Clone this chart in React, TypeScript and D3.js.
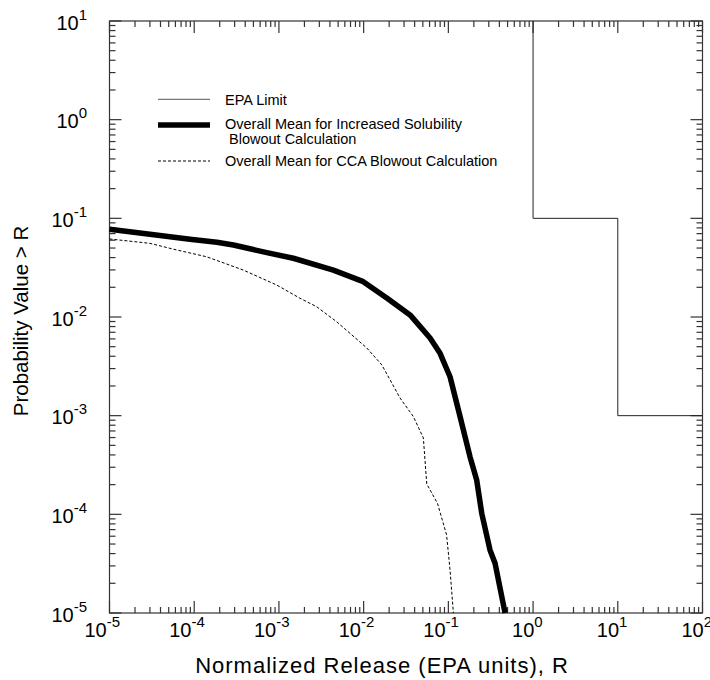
import React from "react";
import * as d3 from "d3";

// ---- Data ----
const xTickExps = [-5, -4, -3, -2, -1, 0, 1, 2];
const yTickExps = [-5, -4, -3, -2, -1, 0, 1];

const epaX = [1, 1, 10, 10, 100];
const epaY = [10, 0.1, 0.1, 0.001, 0.001];

const solubilityX = [1e-5, 3.0e-5, 8.9e-5, 1.85e-4, 2.9e-4, 7.2e-4, 1.48e-3, 4.39e-3, 9.9e-3, 0.01875, 0.0353, 0.0608, 0.0798, 0.1047, 0.1374, 0.18, 0.216, 0.248, 0.31, 0.356, 0.467];
const solubilityY = [0.0774, 0.0689, 0.0614, 0.0572, 0.0537, 0.0449, 0.0394, 0.0299, 0.0228, 0.0156, 0.0105, 6.12e-3, 4.28e-3, 2.48e-3, 9.8e-4, 3.84e-4, 2.23e-4, 1.02e-4, 4.36e-5, 3.19e-5, 1e-5];

const ccaX = [1e-5, 3.0e-5, 6.2e-5, 1.4e-4, 3.8e-4, 9.4e-4, 1.77e-3, 2.79e-3, 4.81e-3, 0.0109, 0.0164, 0.0269, 0.0386, 0.0507, 0.0556, 0.0745, 0.0953, 0.1047, 0.1146];
const ccaY = [0.0618, 0.0558, 0.0478, 0.0408, 0.0299, 0.0211, 0.0155, 0.0127, 8.95e-3, 4.85e-3, 3.27e-3, 1.51e-3, 9.8e-4, 5.94e-4, 2.03e-4, 1.29e-4, 6.18e-5, 2.73e-5, 1e-5];

const legendLabels = [
  ["EPA Limit"],
  ["Overall Mean for Increased Solubility", " Blowout Calculation"],
  ["Overall Mean for CCA Blowout Calculation"],
];

const xTitle = "Normalized Release (EPA units), R";
const yTitle = "Probability Value > R";

// ---- Layout ----
const W = 710, H = 680;
const L = 109.5, R = 702.5, T = 21, B = 613;
const FONT = "'Liberation Sans', Arial, Helvetica, sans-serif";
const AX = "#333";

export default function App() {
  const x = d3.scaleLog().domain([1e-5, 1e2]).range([L, R]);
  const y = d3.scaleLog().domain([1e-5, 1e1]).range([B, T]);

  const line = d3.line<[number, number]>().x((d) => x(d[0])).y((d) => y(d[1]));
  const toPts = (xs: number[], ys: number[]) => xs.map((v, i) => [v, ys[i]] as [number, number]);

  const xTicks: { v: number; major: boolean }[] = [];
  for (let e = xTickExps[0]; e <= xTickExps[xTickExps.length - 1]; e++) {
    xTicks.push({ v: Math.pow(10, e), major: true });
    if (e < xTickExps[xTickExps.length - 1]) for (let k = 2; k <= 9; k++) xTicks.push({ v: k * Math.pow(10, e), major: false });
  }
  const yTicks: { v: number; major: boolean }[] = [];
  for (let e = yTickExps[0]; e <= yTickExps[yTickExps.length - 1]; e++) {
    yTicks.push({ v: Math.pow(10, e), major: true });
    if (e < yTickExps[yTickExps.length - 1]) for (let k = 2; k <= 9; k++) yTicks.push({ v: k * Math.pow(10, e), major: false });
  }

  const MAJ = 12, MIN = 6;

  return (
    <svg width={W} height={H} style={{ position: "absolute", left: 0, top: 0, background: "#fff" }} fontFamily={FONT}>
      <rect x={0} y={0} width={W} height={H} fill="#fff" />
      {/* frame */}
      <rect x={L} y={T} width={R - L} height={B - T} fill="none" stroke={AX} strokeWidth={1.2} />
      {/* ticks */}
      <g stroke={AX} strokeWidth={1.2}>
        {xTicks.map((t, i) => {
          const px = x(t.v);
          const len = t.major ? MAJ : MIN;
          return (
            <g key={"xt" + i}>
              <line x1={px} x2={px} y1={B} y2={B - len} />
              <line x1={px} x2={px} y1={T} y2={T + len} />
            </g>
          );
        })}
        {yTicks.map((t, i) => {
          const py = y(t.v);
          const len = t.major ? MAJ : MIN;
          return (
            <g key={"yt" + i}>
              <line x1={L} x2={L + len} y1={py} y2={py} />
              <line x1={R} x2={R - len} y1={py} y2={py} />
            </g>
          );
        })}
      </g>
      {/* tick labels */}
      {xTickExps.map((e) => {
        const px = x(Math.pow(10, e));
        return (
          <text key={"xl" + e} x={px - (e < 0 ? 25 : 21)} y={637} fontSize={20} fill="#000">
            <tspan>10</tspan>
            <tspan fontSize={15} dy={-10}>{String(e)}</tspan>
          </text>
        );
      })}
      {yTickExps.map((e) => {
        const py = y(Math.pow(10, e));
        return (
          <text key={"yl" + e} x={87} y={py + 8.5} fontSize={20} fill="#000" textAnchor="end">
            <tspan>10</tspan>
            <tspan fontSize={15} dy={-10}>{String(e)}</tspan>
          </text>
        );
      })}
      {/* axis titles */}
      <text x={382} y={673} fontSize={22} letterSpacing={1} textAnchor="middle" fill="#000">{xTitle}</text>
      <text transform={`translate(28,321) rotate(-90)`} fontSize={20.5} textAnchor="middle" fill="#000">{yTitle}</text>
      {/* data */}
      <path d={line(toPts(epaX, epaY)) || ""} fill="none" stroke="#222" strokeWidth={1} />
      <path d={line(toPts(ccaX, ccaY)) || ""} fill="none" stroke="#000" strokeWidth={1} strokeDasharray="3,2" />
      <path d={line(toPts(solubilityX, solubilityY)) || ""} fill="none" stroke="#000" strokeWidth={5.5} strokeLinejoin="round" />
      {/* legend */}
      <g>
        <line x1={158} x2={210} y1={99.3} y2={99.3} stroke="#555" strokeWidth={1} />
        <text x={225} y={104.5} fontSize={14.5} fill="#000">{legendLabels[0][0]}</text>
        <line x1={158} x2={210} y1={125} y2={125} stroke="#000" strokeWidth={5.5} />
        <text x={225} y={128.5} fontSize={14.5} fill="#000">{legendLabels[1][0]}</text>
        <text x={225} y={144} fontSize={14.5} fill="#000" style={{ whiteSpace: "pre" }}>{legendLabels[1][1]}</text>
        <line x1={158} x2={210} y1={161} y2={161} stroke="#000" strokeWidth={1} strokeDasharray="3,2" />
        <text x={225} y={166} fontSize={14.5} fill="#000">{legendLabels[2][0]}</text>
      </g>
    </svg>
  );
}
